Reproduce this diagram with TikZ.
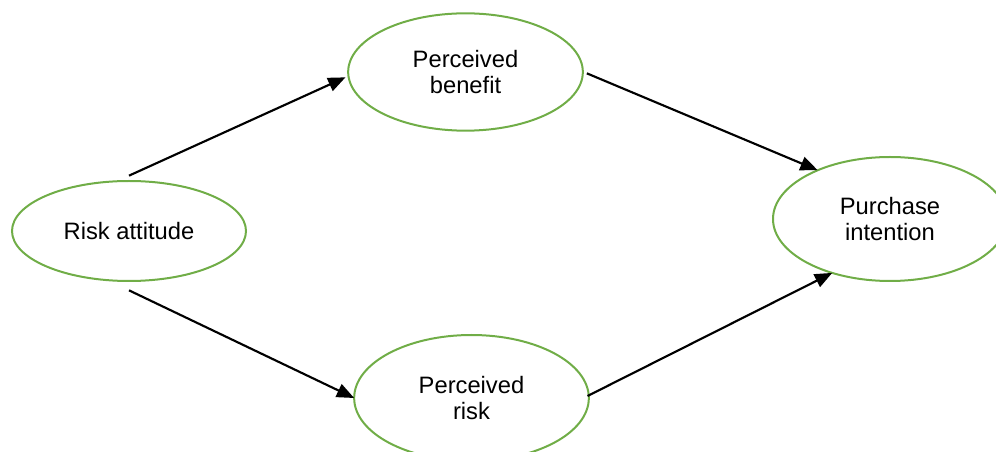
\documentclass[tikz,border=0pt]{standalone}
\usepackage{fontspec}
\setmainfont{Liberation Sans}
\usetikzlibrary{shapes.geometric,arrows.meta}
\definecolor{ovalgreen}{RGB}{112,173,71}
\tikzset{
	oval/.style={ellipse,draw=ovalgreen,line width=1.5pt,inner sep=0pt,outer sep=0pt,align=center,font=\fontsize{17.8}{19.5}\selectfont},
	arr/.style={line width=1.6pt,-{Triangle[length=13pt,width=10.5pt]}}
}
\begin{document}
\begin{tikzpicture}[x=0.75pt,y=-0.75pt]
	\useasboundingbox (0,0) rectangle (996,452);
	\node[oval,minimum width=175.5pt,minimum height=75pt] (risk) at (129,231) {Risk attitude};
	\node[oval,minimum width=176pt,minimum height=88pt] (benefit) at (465.5,72) {Perceived\\benefit};
	\node[oval,minimum width=176pt,minimum height=94.5pt] (prisk) at (471.5,398) {Perceived\\risk};
	\node[oval,minimum width=175.5pt,minimum height=93pt] (intent) at (890,219) {Purchase\\intention};
	\draw[arr] ([yshift=4pt]risk.north) -- ([shift={(-2pt,-4pt)}]benefit.west);
	\draw[arr] ([yshift=-7pt]risk.south) -- (prisk.west);
	\draw[arr] ([shift={(3pt,-1pt)}]benefit.east) -- (intent.146);
	\draw[arr] ([shift={(-1pt,1.5pt)}]prisk.east) -- (intent.223);
\end{tikzpicture}
\end{document}
